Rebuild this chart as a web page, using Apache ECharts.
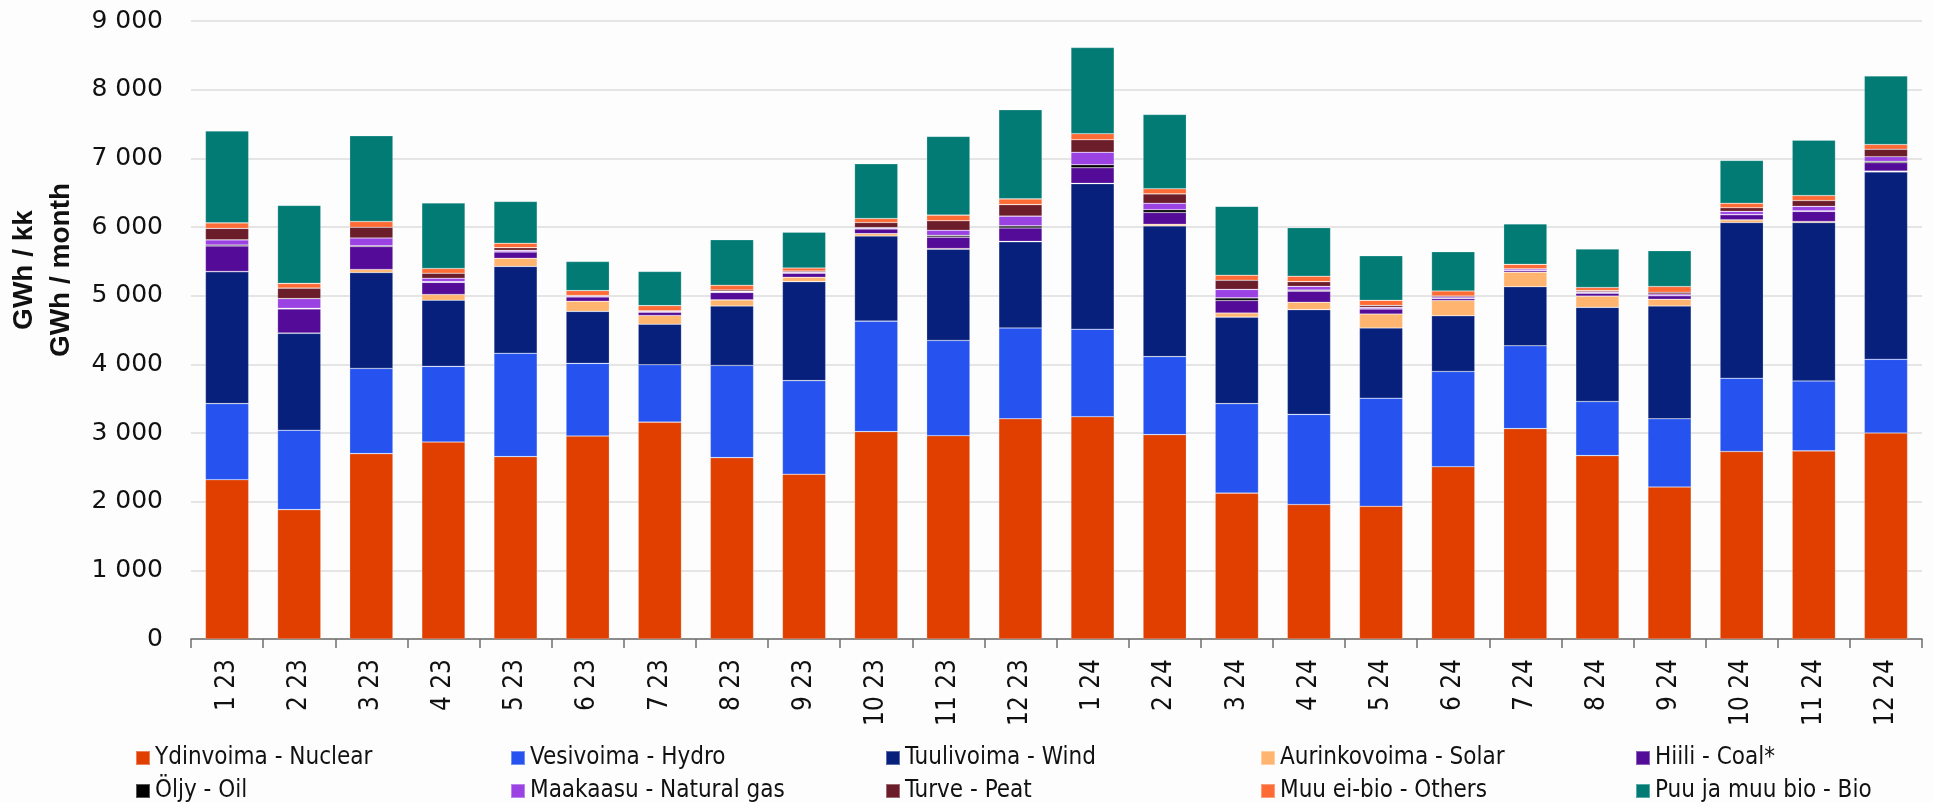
<!DOCTYPE html>
<html>
<head>
<meta charset="utf-8">
<script src="https://cdn.jsdelivr.net/npm/echarts@6/dist/echarts.min.js"></script>
<style>
html,body{margin:0;padding:0;background:#fdfdfd;}
#chart{width:1933px;height:802px;}
</style>
</head>
<body>
<div id="chart"></div>
<script>
const months = ['1 23','2 23','3 23','4 23','5 23','6 23','7 23','8 23','9 23','10 23','11 23','12 23',
                '1 24','2 24','3 24','4 24','5 24','6 24','7 24','8 24','9 24','10 24','11 24','12 24'];
const yTicks = [0,1000,2000,3000,4000,5000,6000,7000,8000,9000];

const nuclear = [2320,1884,2700,2868,2656,2956,3158,2641,2400,3020,2961,3207,3237,2976,2125,1958,1933,2509,3064,2671,2213,2730,2740,3000];
const hydro   = [1108,1156,1240,1102,1505,1058,836,1343,1363,1609,1387,1323,1274,1136,1303,1313,1574,1387,1206,787,994,1067,1018,1073];
const wind    = [1920,1412,1397,964,1265,757,590,866,1441,1239,1328,1255,2120,1904,1260,1525,1023,811,860,1372,1643,2268,2307,2730];
const solar   = [5,5,44,83,118,148,128,88,64,35,10,5,5,24,59,108,202,222,212,163,98,39,15,10];
const coal    = [370,350,335,177,93,64,49,109,59,68,167,196,226,172,182,162,74,29,20,44,50,74,147,123];
const oil     = [15,10,10,10,3,3,5,5,5,5,25,30,44,40,39,15,3,3,3,3,3,5,10,19];
const gas     = [75,140,113,49,20,12,10,10,12,15,74,142,182,93,123,54,20,20,24,15,24,44,64,69];
const peat    = [167,153,157,74,39,5,5,20,15,74,138,168,182,138,133,69,29,15,3,19,25,54,84,108];
const others  = [80,69,84,69,64,71,74,69,44,59,83,83,89,74,74,79,74,73,64,45,83,64,73,69];
const bio     = [1338,1136,1249,954,610,423,497,664,521,797,1146,1299,1254,1082,1003,708,649,571,590,560,522,625,807,999];

const seriesNames = ['Ydinvoima - Nuclear','Vesivoima - Hydro','Tuulivoima - Wind','Aurinkovoima - Solar','Hiili - Coal*',
                     'Öljy - Oil','Maakaasu - Natural gas','Turve - Peat','Muu ei-bio - Others','Puu ja muu bio - Bio'];
const seriesData = [nuclear, hydro, wind, solar, coal, oil, gas, peat, others, bio];
const colors = ['#E03F00','#2653F0','#07207B','#FFB570','#540B97','#000000','#9B42E3','#6B1D2A','#FF6B35','#017B74'];

const narrowFont = "'DejaVu Sans Condensed','Liberation Sans Narrow','Liberation Sans',sans-serif";

const chart = echarts.init(document.getElementById('chart'), null, {renderer:'canvas'});
chart.setOption({
  backgroundColor:'#fdfdfd',
  animation:false,
  color: colors,
  grid:{left:191, right:11, top:21, bottom:163, containLabel:false},
  xAxis:{
    type:'category',
    data: months,
    axisLine:{lineStyle:{color:'#6e6e6e', width:1.5}},
    axisTick:{show:true, length:9, lineStyle:{color:'#6e6e6e', width:1.5}},
    axisLabel:{rotate:90, margin:20, color:'#111', fontSize:26, fontFamily:narrowFont}
  },
  yAxis:{
    type:'value', min:yTicks[0], max:yTicks[yTicks.length-1], interval:1000,
    axisLine:{show:false}, axisTick:{show:false},
    splitLine:{lineStyle:{color:'#dcdcdc', width:1.5}},
    axisLabel:{margin:28, color:'#111', fontSize:25, fontFamily:"'DejaVu Sans',sans-serif",
      formatter:v => String(v).replace(/\B(?=(\d{3})+(?!\d))/g,' ')}
  },
  legend:{
    left:130, top:741, width:1800,
    itemWidth:14, itemHeight:14, itemGap:9, icon:'rect',
    textStyle:{fontSize:24, fontFamily:narrowFont, color:'#111', width:346, lineHeight:23, overflow:'none'},
    data: seriesNames.map((n,i)=> (i===4||i===9) ? {name:n, textStyle:{width:230}} : {name:n})
  },
  graphic:[{
    type:'text', x:43, y:270, rotation:Math.PI/2,
    style:{text:'GWh / kk\nGWh / month', align:'center', verticalAlign:'middle',
      font:"bold 28px 'Liberation Sans', sans-serif", fill:'#111', lineHeight:37}
  }],
  series: seriesNames.map((n,i)=>({
    name:n, type:'bar', stack:'total', barWidth:'60%',
    itemStyle:{color:colors[i], borderColor:'rgba(255,255,255,0.35)', borderWidth:0.6},
    emphasis:{disabled:true},
    data: seriesData[i]
  }))
});
</script>
</body>
</html>
